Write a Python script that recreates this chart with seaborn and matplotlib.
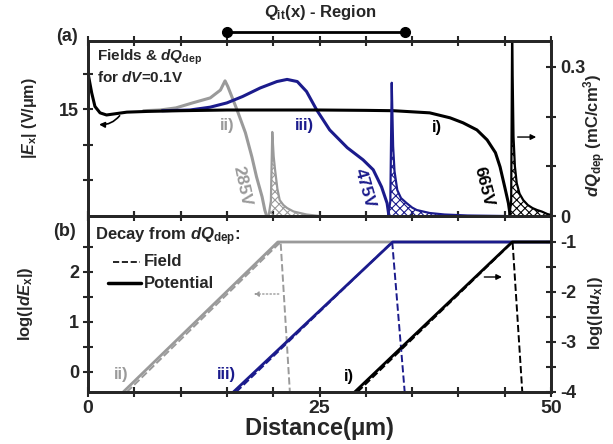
import matplotlib
matplotlib.use("Agg")
import matplotlib.pyplot as plt
import matplotlib.transforms as mtransforms
import seaborn as sns

# ---------------- (a) lateral field |E_x| (V/um) at three bias levels
x_i = [0.0, 0.4, 0.75, 1.3, 2.0, 3.1, 4.2, 6.4, 9.9, 15.0, 20.0, 25.0, 30.0, 33.0,
       36.9, 39.1, 40.5, 42.0, 43.1, 44.0, 44.5, 45.0, 45.4, 45.6]
E_i = [20.1, 17.3, 15.4, 14.5, 14.2, 14.4, 14.6, 14.7, 14.8, 14.9, 14.9, 14.9, 14.85, 14.8,
       14.5, 13.8, 13.1, 12.1, 10.7, 8.9, 6.9, 4.1, 1.8, 0.0]

x_ii = [6.0, 7.8, 9.5, 11.3, 13.2, 14.3, 14.8, 15.1, 16.1, 17.0, 17.7, 18.2, 18.8, 19.1, 19.3]
E_ii = [14.8, 14.9, 15.2, 15.9, 16.6, 17.7, 19.0, 18.2, 14.9, 11.7, 8.3, 5.5, 2.7, 0.8, 0.0]

x_iii = [8.0, 11.0, 13.2, 15.0, 16.7, 18.6, 20.4, 21.5, 22.6, 23.6, 24.7, 26.1, 28.0,
         29.7, 30.8, 31.7, 32.3, 32.5]
E_iii = [14.8, 14.9, 15.3, 15.9, 16.8, 18.0, 18.9, 19.2, 18.9, 17.5, 14.9, 12.1, 9.6,
         7.9, 6.5, 4.1, 1.8, 0.0]

# depletion charge increment dQ_dep (mC/cm^3) for dV = 0.1 V
xq_ii = [19.5, 19.75, 19.9, 20.05, 20.2, 20.45, 20.7, 21.1, 21.5, 22.2, 22.9, 23.6, 25.0]
q_ii = [0.0, 0.03, 0.169, 0.12, 0.093, 0.055, 0.032, 0.022, 0.016, 0.009, 0.006, 0.003, 0.0]

xq_iii = [32.4, 32.65, 32.8, 32.95, 33.1, 33.4, 33.8, 34.4, 35.0, 35.5, 36.9, 38.5, 41.0, 45.0]
q_iii = [0.0, 0.03, 0.268, 0.14, 0.09, 0.052, 0.036, 0.026, 0.017, 0.012, 0.006, 0.003, 0.001, 0.0]

xq_i = [45.5, 45.7, 45.8, 45.95, 46.1, 46.3, 46.6, 47.0, 47.5, 48.0, 48.5, 49.0, 49.6, 50.0]
q_i = [0.0, 0.03, 0.36, 0.16, 0.10, 0.066, 0.045, 0.032, 0.022, 0.016, 0.012, 0.009, 0.004, 0.002]

bias_labels = ["665V", "285V", "475V"]
qit_region = [15.0, 34.2]

# ---------------- (b) decay of field / potential perturbation (log scale)
pot_x_ii, pot_ii = [3.8, 20.5, 50.0], [-0.4, 2.6, 2.6]
fld_x_ii, fld_ii = [4.2, 20.8, 21.8], [-0.4, 2.6, -0.4]
pot_x_iii, pot_iii = [15.7, 32.9, 50.0], [-0.4, 2.6, 2.6]
fld_x_iii, fld_iii = [16.0, 32.85, 34.2], [-0.4, 2.6, -0.4]
pot_x_i, pot_i = [28.8, 45.8, 50.0], [-4.0, -1.0, -1.0]
fld_x_i, fld_i = [29.1, 45.85, 46.9], [-4.0, -1.0, -4.0]

x_ticks = list(range(0, 51, 5))
x_ticklabels = ["0" if t == 0 else "25" if t == 25 else "50" if t == 50 else "" for t in x_ticks]

BLACK = "black"
GRAY = "#9a9a9a"
BLUE = "#1b1b8c"

sns.set_style("ticks")
plt.rcParams.update({
    "font.family": ["Liberation Sans", "DejaVu Sans"],
    "font.weight": "bold",
    "axes.labelweight": "bold",
    "mathtext.fontset": "custom",
    "mathtext.rm": "Liberation Sans:bold",
    "mathtext.it": "Liberation Sans:italic:bold",
    "mathtext.bf": "Liberation Sans:bold",
    "hatch.linewidth": 0.8,
})

W, H = 613, 444
fig = plt.figure(figsize=(W / 100, H / 100), dpi=100)
L, R = 88, 551
ax_a = fig.add_axes([L / W, 1 - 216 / H, (R - L) / W, (216 - 41) / H])
ax_b = fig.add_axes([L / W, 1 - 392 / H, (R - L) / W, (392 - 216) / H])
ax_q = ax_a.twinx()
ax_u = ax_b.twinx()

def line(ax, x, y, color, lw, ls="-"):
    sns.lineplot(x=x, y=y, ax=ax, color=color, lw=lw, ls=ls, sort=False,
                 estimator=None, legend=False)

# ----- panel (a)
line(ax_a, x_ii, E_ii, GRAY, 2.2)
line(ax_a, x_iii, E_iii, BLUE, 2.2)
line(ax_a, x_i, E_i, BLACK, 2.2)

for xq, q, c in [(xq_ii, q_ii, GRAY), (xq_iii, q_iii, BLUE), (xq_i, q_i, BLACK)]:
    ax_q.fill_between(xq, 0, q, facecolor="none", edgecolor=c, hatch="xxxx", linewidth=0)
    line(ax_q, xq, q, c, 1.6)

ax_a.set_xlim(0, 50)
ax_a.set_ylim(0, 24.6)
ax_q.set_ylim(0, 0.352)
ax_a.set_xticks(x_ticks)
ax_a.set_xticklabels([])
ax_a.set_yticks([5, 10, 15, 20])
ax_a.set_yticklabels(["", "", "15", ""])
ax_q.set_yticks([0, 0.1, 0.2, 0.3])
ax_q.set_yticklabels(["0", "", "", "0.3"])

ax_a.set_ylabel(r"$|E_{\mathrm{x}}|$ (V/$\mathrm{\mu}$m)", fontsize=11.5)
ax_a.yaxis.set_label_coords(-0.105, 0.56)
ax_q.set_ylabel(r"$dQ_{\mathrm{dep}}$ (mC/cm$^{3}$)", fontsize=12, rotation=90)
ax_q.yaxis.set_label_coords(1.065, 0.46)

ax_a.text(0.019, 0.905, r"Fields & $dQ_{\mathrm{dep}}$", transform=ax_a.transAxes,
          fontsize=11, va="center", ha="left")
ax_a.text(0.019, 0.79, r"for $dV$=0.1V", transform=ax_a.transAxes,
          fontsize=11, va="center", ha="left")
ax_a.text(15.0, 12.7, "ii)", color=GRAY, fontsize=12, ha="center", va="center")
ax_a.text(23.4, 12.7, "iii)", color=BLUE, fontsize=12, ha="center", va="center")
ax_a.text(37.7, 12.5, "i)", color=BLACK, fontsize=12, ha="center", va="center")
ax_a.text(42.7, 4.1, bias_labels[0], color=BLACK, fontsize=12.5, rotation=-76,
          ha="center", va="center")
ax_a.text(16.6, 4.2, bias_labels[1], color=GRAY, fontsize=12.5, rotation=-78,
          ha="center", va="center")
ax_a.text(29.9, 3.9, bias_labels[2], color=BLUE, fontsize=12.5, rotation=-74,
          ha="center", va="center")

ax_a.annotate("", xy=(0.9, 12.9), xytext=(3.6, 14.4),
              arrowprops=dict(arrowstyle="-|>", color=BLACK, lw=1.2, mutation_scale=8,
                              connectionstyle="arc3,rad=-0.3"))
ax_a.annotate("", xy=(48.7, 11.1), xytext=(46.1, 11.1),
              arrowprops=dict(arrowstyle="-|>", color=BLACK, lw=1.0, mutation_scale=8))

# Q_it region bar above panel (a)
blend = mtransforms.blended_transform_factory(ax_a.transData, fig.transFigure)
ax_a.plot(qit_region, [1 - 32 / H] * 2, color=BLACK, lw=2, marker="o", ms=7,
          transform=blend, clip_on=False)
fig.text((320) / W, 1 - 13 / H, r"$Q_{\mathrm{it}}$(x) - Region", ha="center",
         va="center", fontsize=12)

# ----- panel (b)
line(ax_b, fld_x_ii, fld_ii, GRAY, 1.4, "--")
line(ax_b, pot_x_ii, pot_ii, GRAY, 2.0)
line(ax_b, fld_x_iii, fld_iii, BLUE, 1.4, "--")
line(ax_b, pot_x_iii, pot_iii, BLUE, 2.0)
line(ax_u, fld_x_i, fld_i, BLACK, 1.4, "--")
line(ax_u, pot_x_i, pot_i, BLACK, 2.0)

ax_b.set_xlim(0, 50)
ax_b.set_ylim(-0.4, 3.12)
ax_u.set_ylim(-4.0, -0.48)
ax_b.set_xticks(x_ticks)
ax_b.set_xticklabels(x_ticklabels, fontsize=14)
ax_b.set_yticks([0, 0.5, 1, 1.5, 2, 2.5])
ax_b.set_yticklabels(["0", "", "1", "", "2", ""])
ax_u.set_yticks([-4, -3.5, -3, -2.5, -2, -1.5, -1])
ax_u.set_yticklabels(["-4", "", "-3", "", "-2", "", "-1"])

ax_b.set_xlabel(r"Distance($\mathrm{\mu}$m)", fontsize=17, labelpad=-1)
ax_b.set_ylabel(r"log(|$dE_{\mathrm{x}}$|)", fontsize=12)
ax_b.yaxis.set_label_coords(-0.115, 0.5)
ax_u.set_ylabel(r"log(|d$u_{\mathrm{x}}$|)", fontsize=12, rotation=90)
ax_u.yaxis.set_label_coords(1.075, 0.45)

ax_b.text(0.015, 0.88, r"Decay from $dQ_{\mathrm{dep}}$:", transform=ax_b.transAxes,
          fontsize=12, va="center", ha="left")
ax_b.plot([0.054, 0.112], [0.739, 0.739], transform=ax_b.transAxes, color=BLACK,
          lw=1.2, ls="--")
ax_b.plot([0.043, 0.114], [0.619, 0.619], transform=ax_b.transAxes, color=BLACK, lw=2.5)
ax_b.text(0.121, 0.739, "Field", transform=ax_b.transAxes, fontsize=12, va="center")
ax_b.text(0.121, 0.619, "Potential", transform=ax_b.transAxes, fontsize=12, va="center")
ax_b.text(3.6, -0.06, "ii)", color=GRAY, fontsize=12, ha="center", va="center")
ax_b.text(14.9, -0.06, "iii)", color=BLUE, fontsize=12, ha="center", va="center")
ax_u.text(28.2, -3.7, "i)", color=BLACK, fontsize=12, ha="center", va="center")

ax_b.annotate("", xy=(17.6, 1.56), xytext=(20.9, 1.56),
              arrowprops=dict(arrowstyle="-|>", color=GRAY, lw=1.0, ls=":",
                              mutation_scale=7))
ax_b.annotate("", xy=(45.0, 1.9), xytext=(42.5, 1.9),
              arrowprops=dict(arrowstyle="-|>", color=BLACK, lw=1.0, mutation_scale=8))

# panel tags
fig.text(67 / W, 1 - 36 / H, "(a)", fontsize=13, ha="center", va="center")
fig.text(65 / W, 1 - 231 / H, "(b)", fontsize=13, ha="center", va="center")

# frame and tick styling
for ax in (ax_a, ax_b, ax_q, ax_u):
    for s in ax.spines.values():
        s.set_linewidth(2)
        s.set_visible(True)
    ax.tick_params(which="both", direction="inout", length=7, width=1.5,
                   labelsize=13, pad=3)
ax_a.tick_params(axis="x", top=True, bottom=True)
ax_b.tick_params(axis="x", top=True, bottom=True, labelsize=14, pad=2)
ax_a.tick_params(axis="y", right=False)
ax_b.tick_params(axis="y", right=False)

fig.savefig("out.png", dpi=100)
